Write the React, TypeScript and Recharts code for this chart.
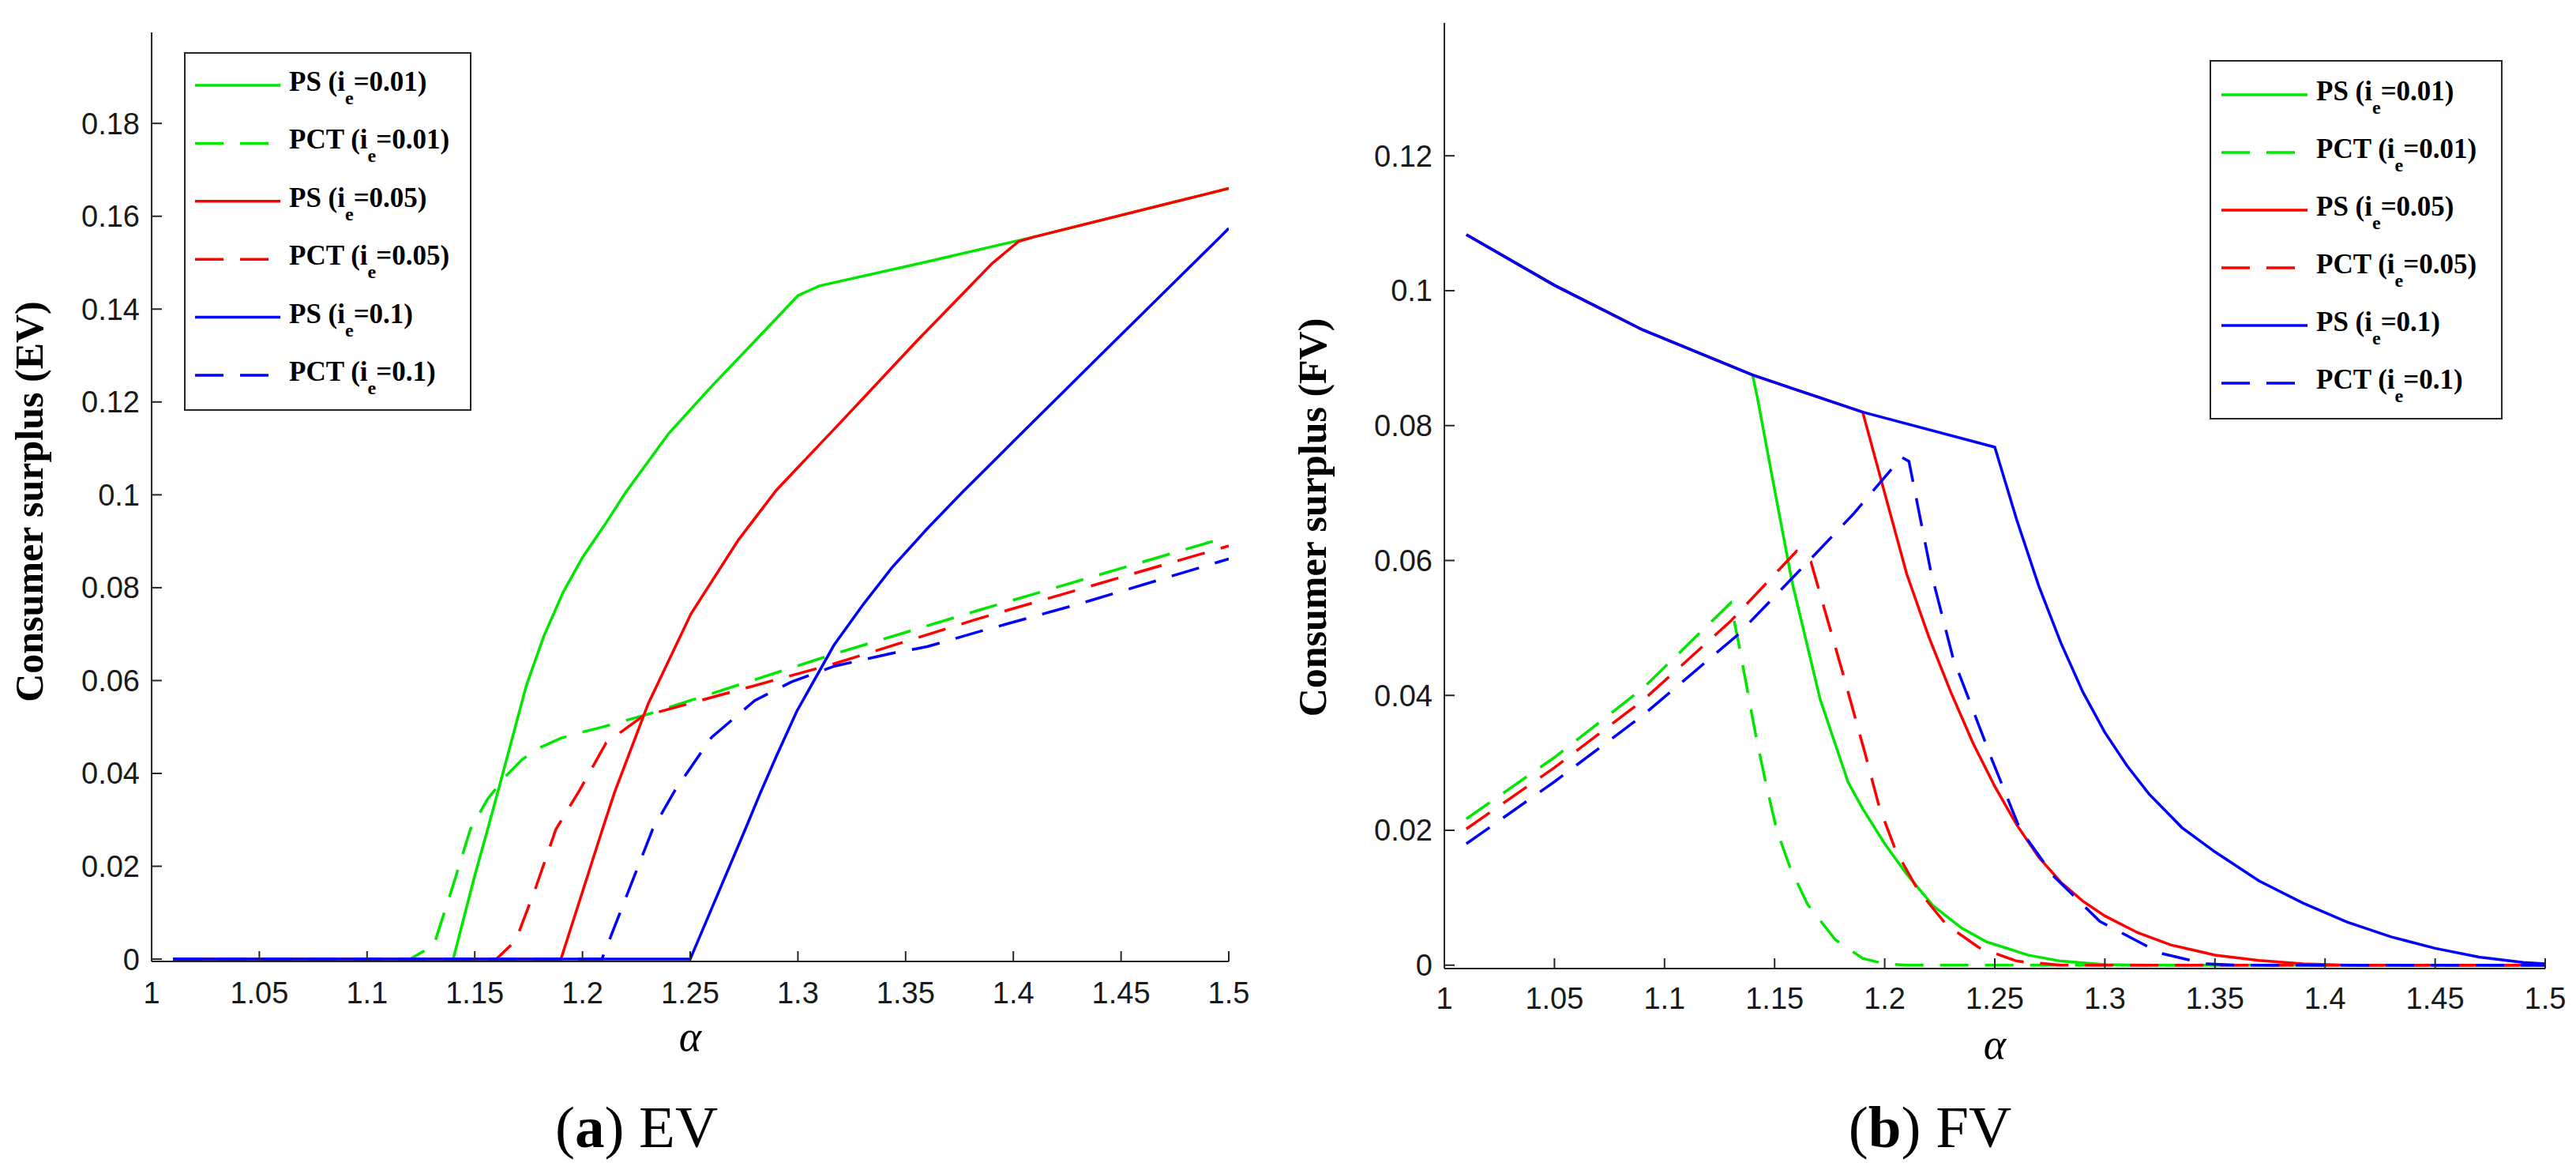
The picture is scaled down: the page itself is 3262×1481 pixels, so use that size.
import React from 'react';
import { LineChart, Line, XAxis, YAxis, Legend } from 'recharts';

type Pt = [number, number];

// ---------- axis ticks ----------
const ALPHA_TICKS = [1, 1.05, 1.1, 1.15, 1.2, 1.25, 1.3, 1.35, 1.4, 1.45, 1.5];
const EV_TICKS = [0, 0.02, 0.04, 0.06, 0.08, 0.1, 0.12, 0.14, 0.16, 0.18];
const FV_TICKS = [0, 0.02, 0.04, 0.06, 0.08, 0.1, 0.12];

// ---------- legend labels ----------
const SERIES_NAMES = ['PS', 'PCT', 'PS', 'PCT', 'PS', 'PCT'];
const SERIES_IE = ['0.01', '0.01', '0.05', '0.05', '0.1', '0.1'];

// ---------- (a) EV data : [alpha, consumer surplus] ----------
const EV_PS_001: Pt[] = [
  [1.01, 0], [1.14, 0], [1.15, 0.018], [1.156, 0.028], [1.161, 0.0365], [1.174, 0.059],
  [1.182, 0.0695], [1.191, 0.079], [1.2, 0.0865], [1.211, 0.094], [1.22, 0.1005],
  [1.24, 0.1132], [1.26, 0.1234], [1.28, 0.1331], [1.3, 0.1429], [1.31, 0.145],
  [1.36, 0.1502], [1.41, 0.1556], [1.5, 0.166],
];
const EV_PCT_001: Pt[] = [
  [1.01, 0], [1.12, 0], [1.131, 0.003], [1.14, 0.016], [1.148, 0.028], [1.156, 0.0345],
  [1.164, 0.0392], [1.172, 0.043], [1.18, 0.0455], [1.19, 0.0476], [1.2, 0.0489],
  [1.211, 0.0502], [1.23, 0.0527], [1.25, 0.0557], [1.3167, 0.0657], [1.3829, 0.075],
  [1.5, 0.091],
];
const EV_PS_005: Pt[] = [
  [1.01, 0], [1.19, 0], [1.2093, 0.028], [1.2148, 0.0358], [1.2306, 0.0551],
  [1.2504, 0.0744], [1.2724, 0.0903], [1.29, 0.101], [1.3204, 0.1159], [1.3547, 0.1329],
  [1.3903, 0.1499], [1.4025, 0.1546], [1.41, 0.1556], [1.5, 0.166],
];
const EV_PCT_005: Pt[] = [
  [1.01, 0], [1.16, 0], [1.169, 0.004], [1.178, 0.015], [1.1877, 0.028], [1.1987, 0.0364],
  [1.211, 0.0466], [1.228, 0.0523], [1.25, 0.0551], [1.3167, 0.0636], [1.3829, 0.0732],
  [1.5, 0.089],
];
const EV_PS_010: Pt[] = [
  [1.01, 0], [1.25, 0], [1.2756, 0.028], [1.2823, 0.0355], [1.29, 0.0437], [1.2995, 0.0534],
  [1.3167, 0.0676], [1.33, 0.0762], [1.3436, 0.0843], [1.36, 0.0927], [1.376, 0.1004],
  [1.4, 0.1115], [1.437, 0.1285], [1.4959, 0.1555], [1.5, 0.1574],
];
const EV_PCT_010: Pt[] = [
  [1.01, 0], [1.209, 0], [1.2326, 0.028], [1.243, 0.0364], [1.26, 0.0478], [1.28, 0.0557],
  [1.297, 0.0597], [1.317, 0.0631], [1.344, 0.0659], [1.36, 0.0673], [1.383, 0.0704],
  [1.432, 0.0767], [1.5, 0.0862],
];

// ---------- (b) FV data : [alpha, consumer surplus] ----------
const FV_PS_001: Pt[] = [
  [1.01, 0.1083], [1.05, 0.1008], [1.09, 0.0942], [1.14, 0.0875], [1.1419, 0.0846],
  [1.15, 0.0705], [1.158, 0.0567], [1.1707, 0.0394], [1.1834, 0.0271], [1.19, 0.0232],
  [1.2, 0.018], [1.21, 0.0135], [1.222, 0.0088], [1.235, 0.0055], [1.246, 0.0035],
  [1.265, 0.0015], [1.28, 0.0006], [1.3, 0.0001], [1.32, 0], [1.5, 0],
];
const FV_PCT_001: Pt[] = [
  [1.01, 0.0217], [1.05, 0.0308], [1.09, 0.041], [1.13, 0.0537], [1.1335, 0.048],
  [1.1375, 0.041], [1.1415, 0.034], [1.146, 0.027], [1.151, 0.02], [1.157, 0.0145],
  [1.165, 0.009], [1.1775, 0.0038], [1.19, 0.001], [1.2, 0.0002], [1.21, 0], [1.5, 0],
];
const FV_PS_005: Pt[] = [
  [1.01, 0.1083], [1.05, 0.1008], [1.09, 0.0942], [1.14, 0.0875], [1.19, 0.082],
  [1.2, 0.07], [1.21, 0.058], [1.22, 0.0487], [1.23, 0.0405], [1.24, 0.033], [1.25, 0.0265],
  [1.26, 0.0208], [1.27, 0.016], [1.28, 0.0123], [1.29, 0.0095], [1.3, 0.0073],
  [1.315, 0.0048], [1.33, 0.003], [1.35, 0.0015], [1.37, 0.0007], [1.39, 0.0002],
  [1.41, 0], [1.5, 0],
];
const FV_PCT_005: Pt[] = [
  [1.01, 0.0202], [1.05, 0.0293], [1.09, 0.0392], [1.13, 0.051], [1.16, 0.0614],
  [1.1665, 0.0598], [1.1808, 0.0435], [1.191, 0.0315], [1.1975, 0.0235], [1.205, 0.017],
  [1.215, 0.0112], [1.228, 0.006], [1.2428, 0.0026], [1.26, 0.0006], [1.28, 0], [1.5, 0],
];
const FV_PS_010: Pt[] = [
  [1.01, 0.1083], [1.05, 0.1008], [1.09, 0.0942], [1.14, 0.0875], [1.19, 0.082],
  [1.25, 0.0768], [1.26, 0.066], [1.27, 0.0562], [1.28, 0.0478], [1.29, 0.0405],
  [1.3, 0.0345], [1.31, 0.0296], [1.32, 0.0254], [1.335, 0.0204], [1.35, 0.0168],
  [1.37, 0.0125], [1.39, 0.0092], [1.41, 0.0064], [1.43, 0.0042], [1.45, 0.0025],
  [1.47, 0.0012], [1.49, 0.0004], [1.5, 0.0002],
];
const FV_PCT_010: Pt[] = [
  [1.01, 0.018], [1.05, 0.0272], [1.09, 0.037], [1.133, 0.0489], [1.1657, 0.06],
  [1.1858, 0.0669], [1.2077, 0.0753], [1.211, 0.0747], [1.221, 0.0583], [1.231, 0.0456],
  [1.2488, 0.0304], [1.2614, 0.0202], [1.277, 0.0131], [1.2977, 0.0065], [1.325, 0.0018],
  [1.3457, 0.0002], [1.36, 0], [1.5, 0],
];

const EV_SERIES = [EV_PS_001, EV_PCT_001, EV_PS_005, EV_PCT_005, EV_PS_010, EV_PCT_010];
const FV_SERIES = [FV_PS_001, FV_PCT_001, FV_PS_005, FV_PCT_005, FV_PS_010, FV_PCT_010];

// ---------- styles ----------
const GREEN = '#00e600';
const RED = '#ff0000';
const BLUE = '#0000ff';
const DASH = '36 21';
const STYLES = [
  { color: GREEN, dash: undefined },
  { color: GREEN, dash: DASH },
  { color: RED, dash: undefined },
  { color: RED, dash: DASH },
  { color: BLUE, dash: undefined },
  { color: BLUE, dash: DASH },
];
const AXIS = '#262626';
const SANS = '"Liberation Sans", Arial, Helvetica, sans-serif';
const SERIF = '"Liberation Serif", "Times New Roman", Times, serif';

function LegendBox({ w, h, rowTop, gap, lineX1, lineX2, textX }: any) {
  return (
    <svg width={w} height={h} style={{ display: 'block' }}>
      <rect x={1} y={1} width={w - 2} height={h - 2} fill="#fff" stroke={AXIS} strokeWidth={2} />
      {SERIES_NAMES.map((name, i) => {
        const cy = rowTop + i * gap;
        const st = STYLES[i];
        return (
          <g key={i}>
            <line x1={lineX1} x2={lineX2} y1={cy} y2={cy} stroke={st.color} strokeWidth={3.5}
              strokeDasharray={st.dash} />
            <text x={textX} y={cy + 7} fontFamily={SERIF} fontWeight="bold" fontSize={35} fill="#000">
              {name} (i
              <tspan dy={17} fontSize={24}>e</tspan>
              <tspan dy={-17}>={SERIES_IE[i]})</tspan>
            </text>
          </g>
        );
      })}
    </svg>
  );
}

function Panel(props: any) {
  const { width, height, margin, yAxisWidth, xAxisHeight, yDomain, yTicks, series, xTickMargin, legend } = props;
  const tickStyle = { fontFamily: SANS, fontSize: 38, fill: '#1a1a1a' };
  const axisLine = { stroke: AXIS, strokeWidth: 2 };
  const tickLine = { stroke: AXIS, strokeWidth: 2 };
  return (
    <LineChart width={width} height={height} margin={margin}>
      <XAxis xAxisId="b" dataKey="a" type="number" domain={[1, 1.5]} ticks={ALPHA_TICKS} interval={0}
        allowDataOverflow height={xAxisHeight} tickSize={-13} tickMargin={xTickMargin}
        axisLine={axisLine} tickLine={tickLine} tick={tickStyle} />
      <XAxis xAxisId="t" orientation="top" dataKey="a" type="number" domain={[1, 1.5]} ticks={ALPHA_TICKS}
        interval={0} allowDataOverflow height={0} tickSize={-13} tick={false}
        axisLine={axisLine} tickLine={tickLine} />
      <YAxis yAxisId="l" type="number" domain={yDomain} ticks={yTicks} interval={0} allowDataOverflow
        width={yAxisWidth} tickSize={-13} tickMargin={28}
        axisLine={axisLine} tickLine={tickLine} tick={tickStyle} />
      <YAxis yAxisId="r" orientation="right" type="number" domain={yDomain} ticks={yTicks} interval={0}
        allowDataOverflow width={0} tickSize={-13} tick={false}
        axisLine={axisLine} tickLine={tickLine} />
      {series.map((pts: Pt[], i: number) => (
        <Line key={i} xAxisId="b" yAxisId="l" type="linear" data={pts.map(([a, v]) => ({ a, v }))}
          dataKey="v" name={`${SERIES_NAMES[i]} (ie=${SERIES_IE[i]})`} stroke={STYLES[i].color}
          strokeWidth={3.5} strokeDasharray={STYLES[i].dash} dot={false} activeDot={false}
          isAnimationActive={false} />
      ))}
      <Legend layout="vertical" align="center" verticalAlign="middle"
        wrapperStyle={{ left: legend.left, top: legend.boxTop, width: legend.w, height: legend.h }}
        content={() => <LegendBox {...legend} />} />
    </LineChart>
  );
}

export default function App() {
  return (
    <div style={{ position: 'relative', width: 3262, height: 1481, background: '#fff', overflow: 'hidden' }}>
      <style>{'body{margin:0;}'}</style>
      <div style={{ position: 'absolute', left: 0, top: 0 }}>
        <Panel width={1620} height={1300} margin={{ top: 41, right: 64, left: 0, bottom: 0 }}
          yAxisWidth={192} xAxisHeight={83} yDomain={[-0.0005, 0.1996]} yTicks={EV_TICKS}
          series={EV_SERIES} xTickMargin={39}
          legend={{ left: 233, boxTop: 66, w: 364, h: 454, rowTop: 42, gap: 73.4, lineX1: 14, lineX2: 122, textX: 133 }} />
      </div>
      <div style={{ position: 'absolute', left: 1640, top: 0 }}>
        <Panel width={1622} height={1300} margin={{ top: 29, right: 39, left: 0, bottom: 0 }}
          yAxisWidth={189} xAxisHeight={74} yDomain={[-0.0005, 0.1397]} yTicks={FV_TICKS}
          series={FV_SERIES} xTickMargin={37}
          legend={{ left: 1158, boxTop: 76, w: 371, h: 455, rowTop: 44, gap: 73, lineX1: 15, lineX2: 124, textX: 135 }} />
      </div>
      <svg width={3262} height={1481} style={{ position: 'absolute', left: 0, top: 0, pointerEvents: 'none' }}>
        <text transform="translate(54,635) rotate(-90)" textAnchor="middle" fontFamily={SERIF}
          fontWeight="bold" fontSize={50} fill="#000">Consumer surplus (EV)</text>
        <text transform="translate(1679,655) rotate(-90)" textAnchor="middle" fontFamily={SERIF}
          fontWeight="bold" fontSize={50} fill="#000">Consumer surplus (FV)</text>
        <text x={874} y={1330} textAnchor="middle" fontFamily={SERIF} fontStyle="italic" fontSize={54}
          fill="#000">α</text>
        <text x={2526} y={1340} textAnchor="middle" fontFamily={SERIF} fontStyle="italic" fontSize={54}
          fill="#000">α</text>
        <text x={806} y={1452} textAnchor="middle" fontFamily={SERIF} fontSize={75} fill="#000">
          (<tspan fontWeight="bold">a</tspan>) EV</text>
        <text x={2444} y={1452} textAnchor="middle" fontFamily={SERIF} fontSize={75} fill="#000">
          (<tspan fontWeight="bold">b</tspan>) FV</text>
      </svg>
    </div>
  );
}
